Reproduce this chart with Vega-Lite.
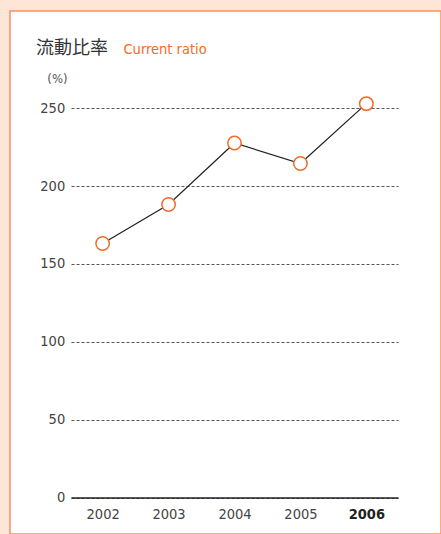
{
  "$schema": "https://vega.github.io/schema/vega-lite/v6.json",
  "autosize": "none",
  "padding": {"left": 10, "top": 11, "right": 0, "bottom": 0},
  "width": 431,
  "height": 523,
  "background": "#fde6d7",
  "config": {
    "view": {"fill": "#ffffff", "stroke": "#f7935a", "strokeWidth": 1.5},
    "font": "'DejaVu Sans Condensed', Roboto, sans-serif"
  },
  "title": {
    "text": "流動比率",
    "anchor": "start",
    "frame": "group",
    "orient": "top",
    "offset": -61,
    "dx": 26,
    "baseline": "alphabetic",
    "font": "Noto Sans CJK JP",
    "fontSize": 18,
    "fontWeight": "normal",
    "color": "#333333"
  },
  "data": {
    "values": [
      {"year": "2002", "ratio": 163.2},
      {"year": "2003", "ratio": 188.2},
      {"year": "2004", "ratio": 227.7},
      {"year": "2005", "ratio": 214.5},
      {"year": "2006", "ratio": 253.0}
    ]
  },
  "encoding": {
    "x": {
      "field": "year",
      "type": "ordinal",
      "scale": {"type": "point", "range": [61, 388], "padding": 0.48},
      "axis": {
        "offset": -36.5,
        "domainColor": "#222222",
        "domainWidth": 1.3,
        "ticks": false,
        "tickSize": 0,
        "grid": false,
        "labelAngle": 0,
        "labelPadding": 10,
        "labelFont": "'DejaVu Sans Condensed', Roboto, sans-serif",
        "labelFontSize": 14.5,
        "labelColor": {"condition": {"test": "datum.value === '2006'", "value": "#222222"}, "value": "#444444"},
        "labelFontWeight": {"condition": {"test": "datum.value === '2006'", "value": "bold"}, "value": "normal"},
        "title": "Current ratio",
        "titleFont": "'DejaVu Sans Condensed', Roboto, sans-serif",
        "titleFontSize": 14.5,
        "titleFontWeight": "normal",
        "titleColor": "#f26b2b",
        "titleAlign": "left",
        "titleBaseline": "alphabetic",
        "titleAnchor": null,
        "titleX": 113,
        "titleY": -444
      }
    },
    "y": {
      "field": "ratio",
      "type": "quantitative",
      "scale": {"domain": [0, 250], "range": [486.5, 97.3], "nice": false, "zero": true},
      "axis": {
        "offset": -60.7,
        "values": [0, 50, 100, 150, 200, 250],
        "domain": false,
        "ticks": false,
        "tickSize": 0,
        "labelPadding": 6,
        "labelFont": "'DejaVu Sans Condensed', Roboto, sans-serif",
        "labelFontSize": 14.5,
        "labelColor": "#444444",
        "grid": true,
        "gridDash": [3, 2],
        "gridColor": "#555555",
        "gridWidth": 1,
        "title": "(%)",
        "titleFont": "'DejaVu Sans Condensed', Roboto, sans-serif",
        "titleFontSize": 13,
        "titleFontWeight": "normal",
        "titleColor": "#555555",
        "titleAngle": 0,
        "titleAlign": "center",
        "titleBaseline": "middle",
        "titleAnchor": null,
        "titleX": -13.7,
        "titleY": 67
      }
    }
  },
  "layer": [
    {"mark": {"type": "line", "color": "#222222", "strokeWidth": 1.2}},
    {"mark": {"type": "point", "shape": "circle", "filled": true, "fill": "#ffffff", "stroke": "#f26b2b", "strokeWidth": 1.5, "size": 180, "opacity": 1}}
  ]
}
